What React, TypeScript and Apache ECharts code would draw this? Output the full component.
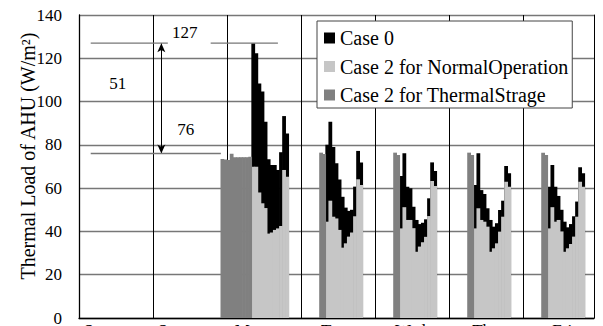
import React, { useEffect, useRef } from "react";
import * as echarts from "echarts";

// Hourly axis: 167 hour-ending slots starting Saturday 1:00
const hourCount = 167;
const hours = Array.from({ length: hourCount }, (_, i) => String(i + 1));

// Day names and the hour slot where each name is printed
const dayNames = ["Sat", "Sun", "Mon", "Tue", "Wed", "Thu", "Fri"];
const dayLabelSlots = [1, 25, 50, 78, 102, 127, 153];

// Case 2 thermal storage operation (night / early morning)
const storageMonStart = 46;
const storageMon = [73.5, 73.2, 73.0, 75.9, 74.3, 74.3, 74.3, 74.3, 74.3, 74.5];
const storageTueStart = 78;
const storageTue = [76.4, 75.8];
const storageWedStart = 102;
const storageWed = [76.4, 75.3];
const storageThuStart = 126;
const storageThu = [76.4, 75.3];
const storageFriStart = 150;
const storageFri = [76.4, 75.3];

// Office hours 8:00-20:00 start slots
const officeStarts = [56, 80, 104, 128, 152];

// Case 0 (no storage)
const case0Mon = [127, 122.3, 108.4, 104.6, 90.7, 73.3, 70.7, 70.7, 68.4, 76.6, 93.3, 85.3];
const case0Tue = [80, 90.7, 79, 71.5, 64, 56, 51, 49.5, 50, 60.7, 77.2, 71.8];
const case0Wed = [65.6, 76.1, 60.7, 59.9, 51.4, 45.3, 43.4, 44, 45.6, 55.3, 71.9, 67.9];
const case0Thu = [61.5, 76.1, 59.1, 57.3, 50.7, 45.3, 42.2, 43.8, 49.9, 54.2, 70.2, 66.9];
const case0Fri = [60.7, 70.7, 60.7, 56.4, 50, 44.5, 41.9, 43.4, 47, 53.8, 69.6, 66.9];

// Case 2, normal operation during office hours
const case2Mon = [69.9, 69.9, 58, 53, 50.8, 39, 39.5, 40.7, 41.4, 42.5, 68.4, 65.3];
const case2Tue = [44.5, 54.2, 46.8, 46, 40.7, 32.5, 34.5, 37.6, 39.5, 47, 64.1, 61.5];
const case2Wed = [41.4, 51.2, 45.3, 45.3, 41.5, 30.6, 33, 35, 37.5, 47.1, 63.3, 61];
const case2Thu = [41.4, 50.7, 45.3, 44.5, 42.2, 30.6, 32.2, 34.5, 39.9, 46.8, 63, 60.7];
const case2Fri = [41.4, 51.2, 44.5, 45.3, 40, 30.6, 32.2, 34.2, 37.6, 46.8, 63, 60.7];

// Annotation values
const peakValue = 127;
const storageLevel = 76;

const seriesNames = ["Case 0", "Case 2 for NormalOperation", "Case 2 for ThermalStrage"];
const seriesColors = ["#000000", "#c6c6c6", "#808080"];
const FONT = "'Liberation Serif', 'DejaVu Serif', serif";

// [slot, value] pairs for one series, built from day blocks
function toPoints(blocks: [number, number[]][]) {
  const out: [number, number][] = [];
  blocks.forEach(([start, vals]) => vals.forEach((v, k) => out.push([start + k, v])));
  return out;
}

export default function App() {
  const ref = useRef<HTMLDivElement>(null);

  useEffect(() => {
    if (!ref.current) return;
    const chart = echarts.init(ref.current, undefined, { renderer: "svg" });

    const case0 = toPoints([case0Mon, case0Tue, case0Wed, case0Thu, case0Fri].map((d, i) => [officeStarts[i], d] as [number, number[]]));
    const case2 = toPoints([case2Mon, case2Tue, case2Wed, case2Thu, case2Fri].map((d, i) => [officeStarts[i], d] as [number, number[]]));
    const storage = toPoints([
      [storageMonStart, storageMon],
      [storageTueStart, storageTue],
      [storageWedStart, storageWed],
      [storageThuStart, storageThu],
      [storageFriStart, storageFri],
    ]);

    // one column per hour, a touch wider than its slot so neighbouring hours join cleanly
    const hourBars = (name: string, color: string, data: [number, number][]) => ({
      type: "custom" as const,
      name,
      xAxisIndex: 0,
      yAxisIndex: 0,
      silent: true,
      itemStyle: { color },
      encode: { x: 0, y: 1 },
      data,
      renderItem: (_params: any, api: any) => {
        const slot = api.value(0);
        const v = api.value(1);
        const base = api.coord([slot, 0]);
        const top = api.coord([slot, v]);
        const w = api.size([1, 0])[0];
        return {
          type: "rect",
          shape: { x: base[0] - w / 2 - 0.35, y: top[1], width: w + 0.7, height: base[1] - top[1] },
          style: { fill: color },
        };
      },
    });

    const guideStyle = { color: "#777", width: 1.3 };

    const notes = [
      { text: String(peakValue), x: 34.3, y: 132 },
      { text: String(peakValue - storageLevel), x: 12.6, y: 108.5 },
      { text: String(storageLevel), x: 34.6, y: 86.9 },
    ];

    chart.setOption({
      animation: false,
      grid: { left: 79, top: 15, right: 9, bottom: 8, containLabel: false, outerBoundsMode: "none" },
      legend: {
        data: seriesNames.map((n, i) => ({ name: n, itemStyle: { color: seriesColors[i] } })),
        orient: "vertical",
        left: 317,
        top: 21,
        itemWidth: 11,
        itemHeight: 11,
        itemGap: 8.5,
        icon: "rect",
        backgroundColor: "#fff",
        borderColor: "#444",
        borderWidth: 1,
        borderRadius: 0,
        padding: [7, 4, 3, 7],
        textStyle: { fontFamily: FONT, fontSize: 20, color: "#000" },
        selectedMode: false,
      },
      xAxis: [
        {
          type: "category",
          data: hours,
          boundaryGap: true,
          axisLine: { show: true, lineStyle: { color: "#000", width: 1.3 } },
          axisTick: { show: false, interval: 23 },
          splitLine: { show: true, interval: 23, lineStyle: { color: "#000", width: 1 } },
          axisLabel: {
            interval: (index: number) => dayLabelSlots.includes(index),
            formatter: (_v: string, index: number) => dayNames[dayLabelSlots.indexOf(index)] ?? "",
            align: "left",
            margin: 4,
            fontFamily: FONT,
            fontSize: 17,
            color: "#000",
          },
        },
        { type: "value", min: 0, max: hourCount, show: false },
      ],
      yAxis: [
        {
          type: "value",
          min: 0,
          max: 140,
          interval: 20,
          name: "Thermal Load of AHU (W/m²)",
          nameLocation: "middle",
          nameMoveOverlap: false,
          nameGap: 41,
          nameTextStyle: { fontFamily: FONT, fontSize: 20, color: "#000", padding: [0, 0, 0, 21] },
          axisLine: { show: true, lineStyle: { color: "#000", width: 1.3 } },
          axisTick: { show: false },
          axisLabel: { fontFamily: FONT, fontSize: 17, color: "#000", margin: 17 },
          splitLine: { show: true, lineStyle: { color: "#777", width: 1.3 } },
        },
        {
          type: "value",
          min: 0,
          max: 140,
          interval: 20,
          position: "right",
          axisLine: { show: true, lineStyle: { color: "#000", width: 1 } },
          axisTick: { show: false },
          axisLabel: { show: false },
          splitLine: { show: false },
        },
      ],
      series: [
        hourBars(seriesNames[0], seriesColors[0], case0),
        hourBars(seriesNames[1], seriesColors[1], case2),
        hourBars(seriesNames[2], seriesColors[2], storage),
        {
          type: "line",
          xAxisIndex: 1,
          yAxisIndex: 0,
          silent: true,
          symbol: "none",
          z: 5,
          lineStyle: guideStyle,
          data: [
            [3.8, peakValue],
            [28.8, peakValue],
          ],
          markLine: {
            silent: true,
            symbol: ["arrow", "arrow"],
            symbolSize: [6, 9],
            label: { show: false },
            lineStyle: { color: "#000", width: 1, type: "solid" },
            data: [[{ coord: [26.7, peakValue] }, { coord: [26.7, storageLevel] }]],
          },
        },
        {
          type: "line",
          xAxisIndex: 1,
          yAxisIndex: 0,
          silent: true,
          symbol: "none",
          z: 5,
          lineStyle: guideStyle,
          data: [
            [42.7, peakValue],
            [64.5, peakValue],
          ],
        },
        {
          type: "line",
          xAxisIndex: 1,
          yAxisIndex: 0,
          silent: true,
          symbol: "none",
          z: 5,
          lineStyle: guideStyle,
          data: [
            [3.8, storageLevel],
            [46, storageLevel],
          ],
        },
        {
          type: "custom",
          xAxisIndex: 1,
          yAxisIndex: 0,
          silent: true,
          z: 6,
          data: notes.map((n) => [n.x, n.y]),
          renderItem: (params: any, api: any) => {
            const p = api.coord([api.value(0), api.value(1)]);
            return {
              type: "text",
              x: p[0],
              y: p[1],
              style: {
                text: notes[params.dataIndex].text,
                fill: "#000",
                font: `17px ${FONT}`,
                align: "center",
                verticalAlign: "middle",
              },
            };
          },
        },
      ],
    });

    return () => chart.dispose();
  }, []);

  return (
    <div
      ref={ref}
      style={{ position: "fixed", left: 0, top: 0, width: 603, height: 326, background: "#fff" }}
    />
  );
}
